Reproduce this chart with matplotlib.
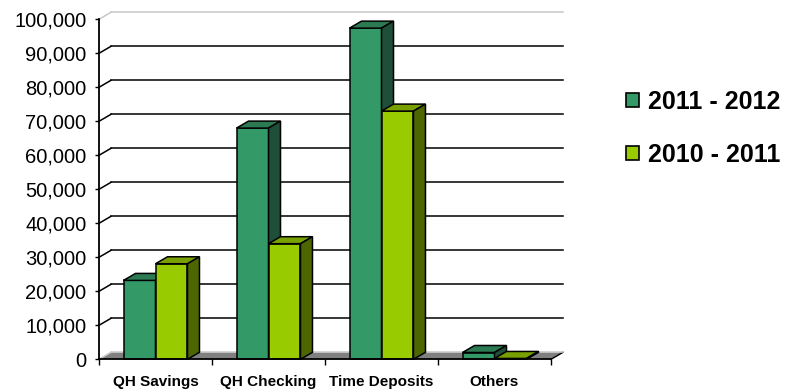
import matplotlib
matplotlib.use("Agg")
import matplotlib.pyplot as plt
from matplotlib.patches import Polygon, Patch
from matplotlib.ticker import FuncFormatter

plt.rcParams['font.family'] = 'Liberation Sans'

# data
categories = ['QH Savings', 'QH Checking', 'Time Deposits', 'Others']
series_names = ['2011 - 2012', '2010 - 2011']
values_2012 = [23200, 68000, 97400, 2000]
values_2011 = [28100, 34000, 73000, 250]

# colours: front, top, side
dark = ('#339966', '#2b7a52', '#1f4f38')
light = ('#99cc00', '#77a000', '#4d6600')

fig = plt.figure(figsize=(7.85, 3.9), dpi=100)
ax = fig.add_axes([99/785, 30.7/390, 452/785, 340/390])
ax.set_xlim(0, 4)
ax.set_ylim(0, 100000)

# depth offset of the back plane, in data units
dx = 12/452*4
dy = 7/340*100000
bw = 0.283

# floor
ax.add_patch(Polygon([(0, 0), (4, 0), (4+dx, dy), (dx, dy)], fc='#808080',
                     ec='none', clip_on=False, zorder=1))
ax.plot([4, 4+dx], [0, dy], color='black', lw=1, clip_on=False, zorder=1.5)

# back wall gridlines + diagonal ticks
for v in range(0, 100001, 10000):
    c = 'black' if 0 < v < 100000 else '#c8c8c8'
    ax.plot([dx, 4+dx], [v+dy, v+dy], color=c, lw=1.1, clip_on=False, zorder=1.5)
    ax.plot([0, dx], [v, v+dy], color=c, lw=1.1, clip_on=False, zorder=1.5)


def bar3d(x0, h, cols):
    ax.add_patch(Polygon([(x0, 0), (x0+bw, 0), (x0+bw, h), (x0, h)],
                         fc=cols[0], ec='black', lw=1.1, clip_on=False, zorder=3))
    ax.add_patch(Polygon([(x0, h), (x0+bw, h), (x0+bw+dx, h+dy), (x0+dx, h+dy)],
                         fc=cols[1], ec='black', lw=1.1, clip_on=False, zorder=3))
    ax.add_patch(Polygon([(x0+bw, 0), (x0+bw+dx, dy), (x0+bw+dx, h+dy), (x0+bw, h)],
                         fc=cols[2], ec='black', lw=1.1, clip_on=False, zorder=3))


for i in range(len(categories)):
    c = i + 0.5
    bar3d(c - bw, values_2012[i], dark)
    bar3d(c, values_2011[i], light)

for s in ['top', 'right']:
    ax.spines[s].set_visible(False)
for s in ['left', 'bottom']:
    ax.spines[s].set_linewidth(1.3)
    ax.spines[s].set_zorder(4)

ax.set_yticks(range(0, 100001, 10000))
ax.yaxis.set_major_formatter(FuncFormatter(lambda v, p: f'{int(v):,}'))
ax.tick_params(axis='y', length=3, width=1, pad=6, labelsize=14.5)

ax.set_xticks([i + 0.5 for i in range(len(categories))])
ax.set_xticklabels(categories, fontsize=11, fontweight='bold')
ax.set_xticks(range(5), minor=True)
ax.tick_params(axis='x', which='major', length=0, pad=11)
ax.tick_params(axis='x', which='minor', length=4, width=1)

handles = [Patch(facecolor=dark[0], edgecolor='black', lw=1.2),
           Patch(facecolor=light[0], edgecolor='black', lw=1.2)]
fig.legend(handles, series_names, loc='center left',
           bbox_to_anchor=(626/785, 261.5/390), frameon=False,
           prop=dict(family='Liberation Sans', weight='bold', size=18),
           handlelength=0.5, handleheight=0.5, handletextpad=0.4,
           labelspacing=1.15, borderpad=0, borderaxespad=0)

fig.savefig('out.png', dpi=100)
